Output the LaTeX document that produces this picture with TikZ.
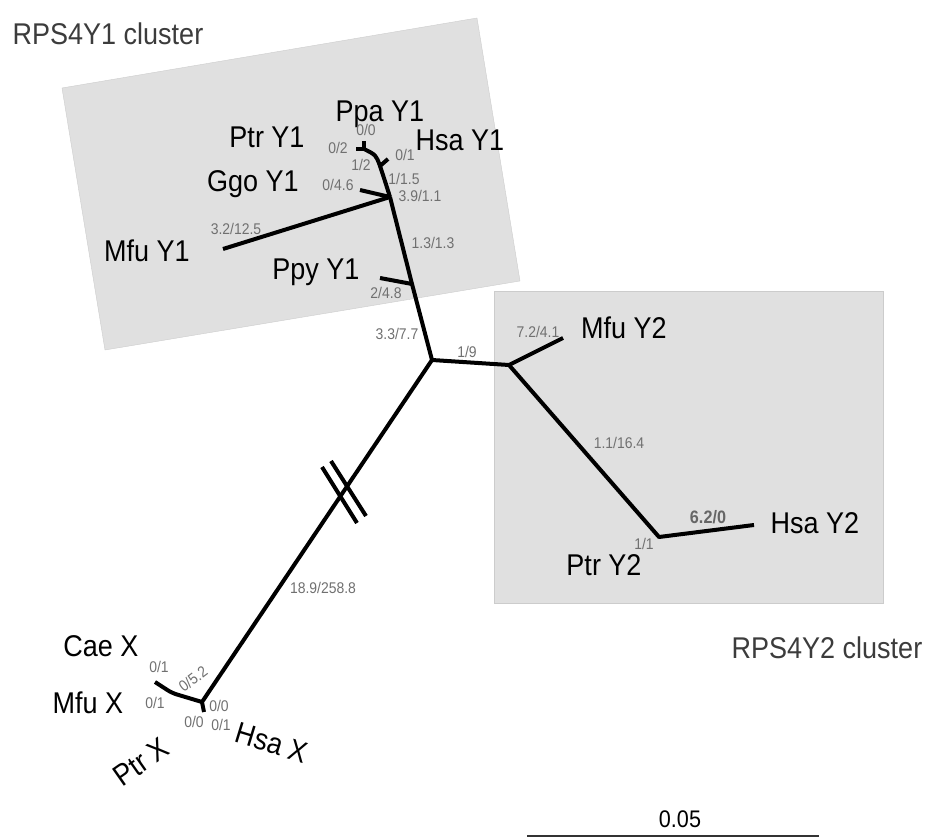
\documentclass[tikz,border=0pt]{standalone}
\usepackage{fontspec}
\setmainfont{Liberation Sans}[FakeStretch=0.9]
\usepackage{tikz}
\usepackage{xcolor}
\usetikzlibrary{positioning}

\definecolor{boxgray}{RGB}{224,224,224}
\definecolor{boxline}{RGB}{204,204,204}
\definecolor{lengray}{RGB}{112,112,112}
\definecolor{clustgray}{RGB}{60,60,60}

\begin{document}
\begin{tikzpicture}[x=1pt, y=-1pt,
		branch/.style={line width=4pt, line join=round},
		taxon/.style={anchor=base, inner sep=0pt, font=\fontsize{30}{30}\selectfont},
		brlen/.style={text=lengray, inner sep=0pt, font=\fontsize{15.5}{15.5}\selectfont},
		clust/.style={anchor=base, inner sep=0pt, text=clustgray, font=\fontsize{30}{30}\selectfont}]
			
			\useasboundingbox (0,0) rectangle (930,837);
			
			% the two clusters
			\filldraw[fill=boxgray, draw=boxline] (62,88) -- (477,18) -- (520,281) -- (105,350) -- cycle;
			\filldraw[fill=boxgray, draw=boxline] (494,291) rectangle (883,603);
			\node[clust] (c1) at (108,45) {RPS4Y1 cluster};
			\node[clust] (c2) at (827,658) {RPS4Y2 cluster};
			
			\coordinate (root) at (432,360);
			\coordinate (y2n) at (509,365);
			\coordinate (mfuy2) at (563,338);
			\coordinate (ptry2) at (659,537);
			\coordinate (hsay2) at (754,525);
			\coordinate (ppyn) at (412,284);
			\coordinate (ppyy1) at (380,278);
			\coordinate (ggon) at (390,197);
			\coordinate (mfuy1) at (223,249);
			\coordinate (ggoy1) at (360,190);
			\coordinate (hsan) at (380,166);
			\coordinate (hsay1) at (388,159);
			\coordinate (ppan) at (364,149);
			\coordinate (ptry1) at (356,149);
			\coordinate (ppay1) at (364,141);
			\coordinate (xn) at (202,702);
			\coordinate (caen) at (172,693);
			\coordinate (caex) at (155,682);
			\coordinate (hsax) at (204,712);
			
			% Y1 side
			\draw[branch] (root) -- (ppyn) -- (ggon);
			\draw[branch] (ggon) .. controls (384,178) .. (hsan) .. controls (376,155) .. (ppan);
			\draw[branch] (ppyn) -- (ppyy1);
			\draw[branch] (ggon) -- (mfuy1);
			\draw[branch] (ggon) -- (ggoy1);
			\draw[branch] (hsan) -- (hsay1);
			\draw[branch] (ppan) -- (ptry1);
			\draw[branch] (ppan) -- (ppay1);
			
			% Y2 side
			\draw[branch] (root) -- (y2n) -- (mfuy2);
			\draw[branch] (y2n) -- (ptry2) -- (hsay2);
			
			% X side
			\draw[branch] (root) -- (xn);
			\draw[branch, rounded corners=5pt] (xn) -- (caen) -- (caex);
			\draw[branch] (xn) -- (hsax);
			\draw[branch] (322,467) -- (357,523);
			\draw[branch] (331,461) -- (366,516);
			
			\node[taxon] (t-ppay1) at (380,122) {Ppa Y1};
			\node[taxon] (t-ptry1) at (267,148) {Ptr Y1};
			\node[taxon] (t-hsay1) at (460,151) {Hsa Y1};
			\node[taxon] (t-ggoy1) at (253,192) {Ggo Y1};
			\node[taxon] (t-mfuy1) at (147,262) {Mfu Y1};
			\node[taxon] (t-ppyy1) at (316,280) {Ppy Y1};
			\node[taxon] (t-mfuy2) at (624,338) {Mfu Y2};
			\node[taxon] (t-hsay2) at (815,533) {Hsa Y2};
			\node[taxon] (t-ptry2) at (604,575) {Ptr Y2};
			\node[taxon] (t-caex) at (101,656) {Cae X};
			\node[taxon] (t-mfux) at (88,713) {Mfu X};
			\node[taxon, anchor=center, rotate=35] (t-ptrx) at (141,762) {Ptr X};
			\node[taxon, anchor=center, rotate=-17] (t-hsax) at (272,743) {Hsa X};
			
			\node[brlen] (b1) at (366,130) {0/0};
			\node[brlen] (b2) at (338,148) {0/2};
			\node[brlen] (b3) at (361,165) {1/2};
			\node[brlen] (b4) at (405,155) {0/1};
			\node[brlen] (b5) at (404,179) {1/1.5};
			\node[brlen] (b6) at (338,185) {0/4.6};
			\node[brlen] (b7) at (420,196) {3.9/1.1};
			\node[brlen] (b8) at (236,229) {3.2/12.5};
			\node[brlen] (b9) at (433,243) {1.3/1.3};
			\node[brlen] (b10) at (386,293) {2/4.8};
			\node[brlen] (b11) at (397,334) {3.3/7.7};
			\node[brlen] (b12) at (467,352) {1/9};
			\node[brlen] (b13) at (538,332) {7.2/4.1};
			\node[brlen] (b14) at (619,443) {1.1/16.4};
			\node[brlen, font=\fontsize{18}{18}\selectfont\bfseries, text=black!60] (b15) at (708,517) {6.2/0};
			\node[brlen] (b16) at (644,544) {1/1};
			\node[brlen] (b17) at (323,588) {18.9/258.8};
			\node[brlen] (b18) at (159,667) {0/1};
			\node[brlen, rotate=37] (b19) at (193,679) {0/5.2};
			\node[brlen] (b20) at (155,703) {0/1};
			\node[brlen] (b21) at (219,706) {0/0};
			\node[brlen] (b22) at (194,722) {0/0};
			\node[brlen] (b23) at (221,725) {0/1};
			
			% scale bar
			\coordinate (sbl) at (527,836);
			\coordinate (sbr) at (819,836);
			\draw[line width=1.2pt, black!80] (sbl) -- (sbr);
			\node[anchor=base, inner sep=0pt, font=\fontsize{24}{24}\selectfont] (sbtxt) at (680,827) {0.05};
		\end{tikzpicture}
\end{document}
